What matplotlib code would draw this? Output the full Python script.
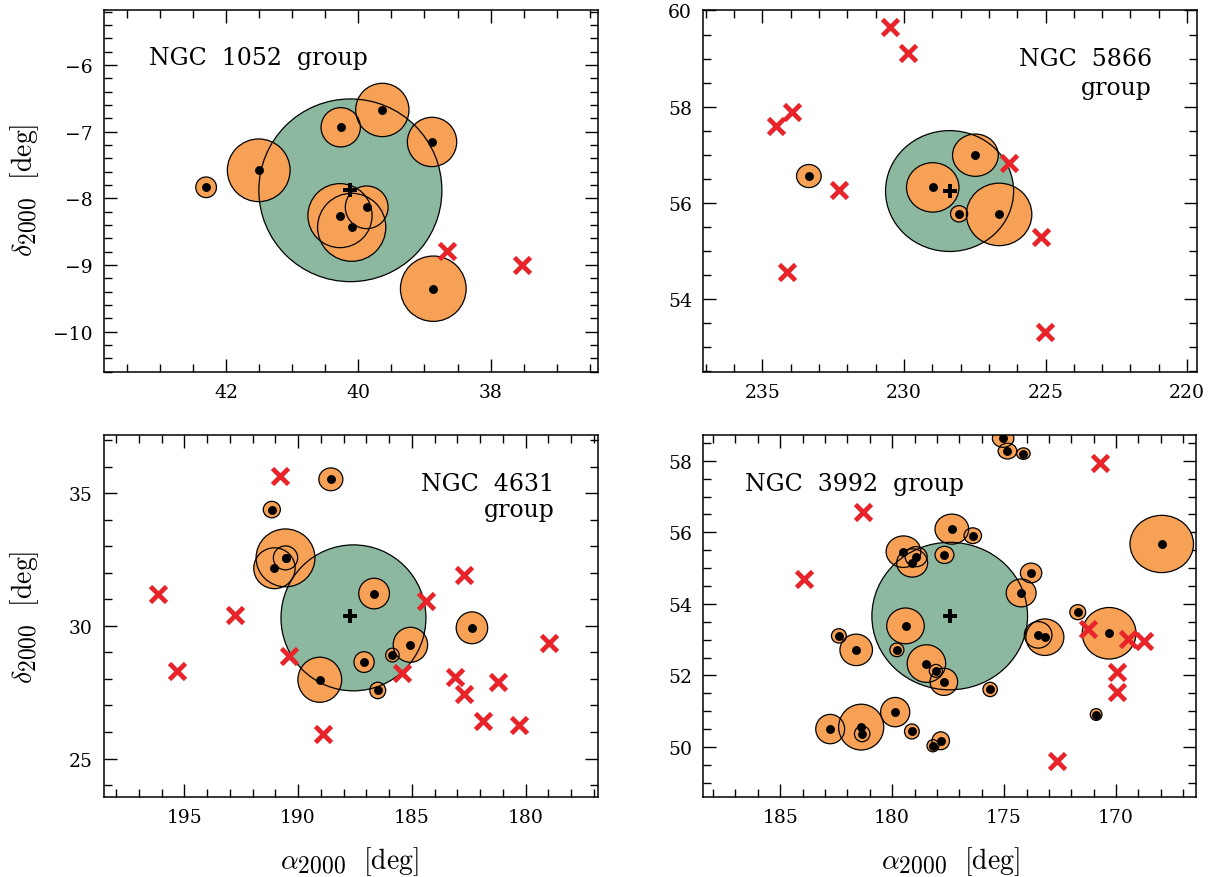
import numpy as np
import matplotlib
matplotlib.use("Agg")
import matplotlib.pyplot as plt
from matplotlib.patches import Ellipse
from matplotlib.ticker import MultipleLocator

plt.rcParams["mathtext.fontset"] = "cm"
# slightly larger sub/superscripts in the axis titles
try:
    import matplotlib._mathtext as _mt
    _mt.SHRINK_FACTOR = 0.85
except Exception:
    pass

# ---------------- NGC 1052 group ----------------
n1052_center = (40.12, -7.88)
n1052_radius = 1.37
n1052_mem_ra = [42.30, 41.505, 40.266, 39.637, 38.886, 40.277, 40.10, 39.873, 38.867]
n1052_mem_dec = [-7.835, -7.58, -6.935, -6.675, -7.155, -8.26, -8.435, -8.135, -9.356]
n1052_mem_r = [0.155, 0.47, 0.295, 0.40, 0.37, 0.48, 0.51, 0.32, 0.49]
n1052_non_ra = [38.664, 37.52]
n1052_non_dec = [-8.786, -9.0]

# ---------------- NGC 5866 group ----------------
n5866_center = (228.39, 56.244)
n5866_radius = 1.257
n5866_mem_ra = [233.36, 228.985, 227.478, 228.055, 226.64]
n5866_mem_dec = [56.556, 56.32, 56.99, 55.77, 55.758]
n5866_mem_r = [0.24, 0.514, 0.44, 0.17, 0.65]
n5866_non_ra = [230.495, 229.85, 233.95, 234.53, 232.29, 226.275, 225.164, 234.15, 225.01]
n5866_non_dec = [59.654, 59.12, 57.896, 57.59, 56.265, 56.82, 55.28, 54.56, 53.32]

# ---------------- NGC 4631 group ----------------
n4631_center = (187.567, 30.30)
n4631_cross = (187.70, 30.365)
n4631_radius = 2.75
n4631_mem_ra = [188.56, 191.155, 190.553, 191.04, 190.553, 186.66, 182.36, 185.064,
                185.855, 187.10, 189.047, 186.50]
n4631_mem_dec = [35.52, 34.38, 32.56, 32.17, 32.56, 31.216, 29.925, 29.285,
                 28.897, 28.634, 27.968, 27.565]
n4631_mem_r = [0.43, 0.31, 1.09, 0.77, 0.45, 0.577, 0.60, 0.66, 0.26, 0.39, 0.85, 0.31]
n4631_non_ra = [190.817, 196.175, 192.79, 195.30, 190.41, 188.90, 185.43, 184.39,
                182.69, 183.12, 182.72, 181.20, 181.875, 180.28, 178.99]
n4631_non_dec = [35.645, 31.216, 30.425, 28.306, 28.86, 25.935, 28.23, 30.94,
                 31.93, 28.054, 27.415, 27.88, 26.41, 26.25, 29.37]

# ---------------- NGC 3992 group ----------------
n3992_center = (177.43, 53.66)
n3992_radius = 2.06
n3992_mem_ra = [175.045, 174.85, 174.14, 177.335, 176.40, 179.495, 179.107, 178.93,
                177.665, 173.795, 174.24, 179.405, 182.38, 181.607, 179.79, 178.47,
                178.05, 177.69, 175.625, 171.71, 170.31, 167.96, 170.89, 173.18,
                173.48, 182.77, 181.384, 181.34, 179.866, 179.12, 177.83, 178.18]
n3992_mem_dec = [58.625, 58.27, 58.20, 56.09, 55.906, 55.46, 55.144, 55.32,
                 55.37, 54.865, 54.307, 53.386, 53.107, 52.716, 52.716, 52.334,
                 52.13, 51.823, 51.61, 53.77, 53.18, 55.675, 50.91, 53.07,
                 53.135, 50.503, 50.558, 50.37, 50.977, 50.436, 50.176, 50.037]
n3992_mem_r = [0.25, 0.22, 0.16, 0.42, 0.22, 0.44, 0.395, 0.28,
               0.24, 0.275, 0.39, 0.50, 0.20, 0.44, 0.19, 0.525,
               0.18, 0.38, 0.20, 0.21, 0.72, 0.80, 0.165, 0.51,
               0.37, 0.41, 0.64, 0.22, 0.41, 0.21, 0.25, 0.17]
n3992_non_ra = [181.295, 183.96, 170.73, 171.265, 169.45, 168.74, 169.97, 169.97, 172.65]
n3992_non_dec = [56.56, 54.70, 57.94, 53.31, 53.03, 52.976, 52.10, 51.54, 49.6]

GREEN = "#8db8a0"
ORANGE = "#f6a155"
RED = "#e8242a"

W, H = 1218, 878
fig = plt.figure(figsize=(W / 100, H / 100), dpi=100)


def add_axes_px(x0, y0, x1, y1):
    return fig.add_axes([x0 / W, 1 - y1 / H, (x1 - x0) / W, (y1 - y0) / H])


def sky_circle(ra, dec, r, **kw):
    # circle of angular radius r on the sky, stretched in RA by 1/cos(dec)
    return Ellipse((ra, dec), 2 * r / np.cos(np.radians(dec)), 2 * r, **kw)


def draw_group(ax, center, radius, mra, mdec, mr, nra, ndec, cross=None):
    if cross is None:
        cross = center
    # fills first
    ax.add_patch(sky_circle(center[0], center[1], radius, facecolor=GREEN,
                            edgecolor="none", zorder=1))
    for ra, dec, r in zip(mra, mdec, mr):
        ax.add_patch(sky_circle(ra, dec, r, facecolor=ORANGE, edgecolor="none", zorder=2))
    # outlines on top of all fills
    ax.add_patch(sky_circle(center[0], center[1], radius, facecolor="none",
                            edgecolor="black", lw=0.9, zorder=3))
    for ra, dec, r in zip(mra, mdec, mr):
        ax.add_patch(sky_circle(ra, dec, r, facecolor="none", edgecolor="black",
                                lw=0.9, zorder=3))
    ax.plot(mra, mdec, "o", color="black", ms=6.4, mew=0, zorder=5)
    ax.plot(nra, ndec, "x", color=RED, ms=11, mew=3.4, zorder=4)
    ax.plot([cross[0]], [cross[1]], "P", color="black", ms=10, mew=0, zorder=6)


def style_axes(ax, xlim, ylim, xmaj, xmin, ymaj, ymin):
    ax.set_xlim(*xlim)
    ax.set_ylim(*ylim)
    ax.xaxis.set_major_locator(MultipleLocator(xmaj))
    ax.xaxis.set_minor_locator(MultipleLocator(xmin))
    ax.yaxis.set_major_locator(MultipleLocator(ymaj))
    ax.yaxis.set_minor_locator(MultipleLocator(ymin))
    ax.tick_params(which="both", direction="in", top=True, right=True, width=1.0,
                   labelsize=13.5, pad=8)
    ax.tick_params(which="major", length=9.5)
    ax.tick_params(which="minor", length=6.0)
    for lab in ax.get_xticklabels() + ax.get_yticklabels():
        lab.set_fontfamily("DejaVu Serif")
    for s in ax.spines.values():
        s.set_linewidth(1.1)
    ax.set_aspect("auto")


TXT = dict(fontsize=17, family="DejaVu Serif", color="black", zorder=10)

ax1 = add_axes_px(104, 11, 598, 373)
draw_group(ax1, n1052_center, n1052_radius, n1052_mem_ra, n1052_mem_dec, n1052_mem_r,
           n1052_non_ra, n1052_non_dec)
style_axes(ax1, (43.843, 36.378), (-10.605, -5.176), 2, 0.5, 1, 0.2)
ax1.text(0.091, 0.851, "NGC  1052  group", transform=ax1.transAxes, ha="left",
         va="baseline", **TXT)

ax2 = add_axes_px(703, 11, 1197, 373)
draw_group(ax2, n5866_center, n5866_radius, n5866_mem_ra, n5866_mem_dec, n5866_mem_r,
           n5866_non_ra, n5866_non_dec)
style_axes(ax2, (237.10, 219.65), (52.48, 60.01), 5, 1, 2, 0.5)
ax2.text(0.909, 0.849, "NGC  5866", transform=ax2.transAxes, ha="right",
         va="baseline", **TXT)
ax2.text(0.909, 0.768, "group", transform=ax2.transAxes, ha="right",
         va="baseline", **TXT)

ax3 = add_axes_px(104, 436, 598, 798)
draw_group(ax3, n4631_center, n4631_radius, n4631_mem_ra, n4631_mem_dec, n4631_mem_r,
           n4631_non_ra, n4631_non_dec, cross=n4631_cross)
style_axes(ax3, (198.53, 176.82), (23.55, 37.19), 5, 1, 5, 1)
ax3.text(0.9115, 0.848, "NGC  4631", transform=ax3.transAxes, ha="right",
         va="baseline", **TXT)
ax3.text(0.9115, 0.775, "group", transform=ax3.transAxes, ha="right",
         va="baseline", **TXT)

ax4 = add_axes_px(703, 436, 1196, 798)
draw_group(ax4, n3992_center, n3992_radius, n3992_mem_ra, n3992_mem_dec, n3992_mem_r,
           n3992_non_ra, n3992_non_dec)
style_axes(ax4, (188.45, 166.43), (48.605, 58.72), 5, 1, 2, 0.5)
ax4.text(0.085, 0.848, "NGC  3992  group", transform=ax4.transAxes, ha="left",
         va="baseline", **TXT)

# axis titles
ylab = r"$\delta_{2000}\ \ \mathrm{[deg]}$"
xlab = r"$\alpha_{2000}\ \ \mathrm{[deg]}$"
fig.text(25 / W, 1 - 190 / H, ylab, rotation=90, ha="center", va="center", fontsize=20)
fig.text(25 / W, 1 - 617 / H, ylab, rotation=90, ha="center", va="center", fontsize=20)
fig.text(349 / W, 1 - 862 / H, xlab, ha="center", va="center", fontsize=20)
fig.text(950 / W, 1 - 862 / H, xlab, ha="center", va="center", fontsize=20)

fig.savefig("out.png", dpi=100)
